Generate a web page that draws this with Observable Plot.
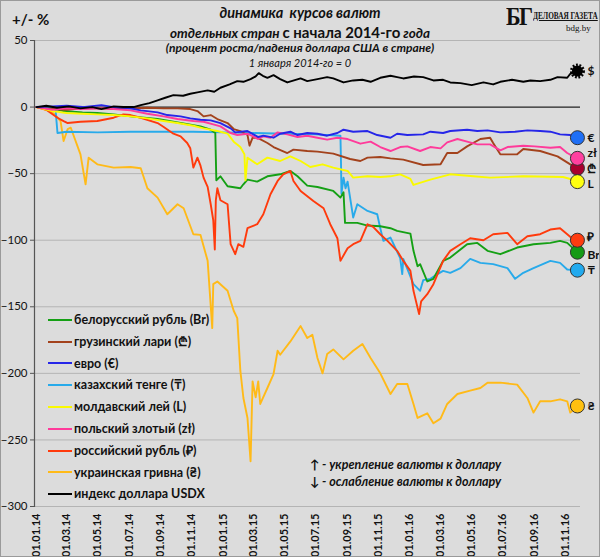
<!DOCTYPE html>
<html><head><meta charset="utf-8">
<script src="https://cdn.jsdelivr.net/npm/d3@7"></script>
<script src="https://cdn.jsdelivr.net/npm/@observablehq/plot@0.6"></script>
<style>
html,body{margin:0;padding:0;background:#dcdcdc;}
#wrap{position:relative;width:600px;height:557px;background:#dcdcdc;overflow:hidden;font-family:Lato,"Open Sans",sans-serif;color:#111;}
#chart{position:absolute;left:0;top:0;}
.border{position:absolute;left:0;top:0;width:598px;height:555px;border:1px solid #9a9a9a;pointer-events:none;}
.t{position:absolute;left:0;width:600px;text-align:center;font-weight:bold;font-style:italic;white-space:nowrap;line-height:1;}
.legend{position:absolute;left:48px;top:309px;font-weight:bold;font-size:12.5px;}
.legend div{height:21.8px;line-height:21.8px;white-space:nowrap;display:flex;align-items:center;}
.legend span.sw{display:inline-block;width:24px;height:2px;margin-right:2px;}
.note{position:absolute;left:310px;top:456px;font-weight:bold;font-style:italic;font-size:12.5px;line-height:17px;white-space:nowrap;}
.logo{position:absolute;left:506px;top:2px;font-family:"Liberation Serif",serif;font-weight:bold;}
</style></head>
<body>
<div id="wrap">
  <div id="chart"></div>
  <div style="position:absolute;left:12px;top:10px;font-weight:bold;font-size:15px;">+/- %</div>
  <div class="t" style="top:6px;font-size:14.5px;">динамика&nbsp; курсов валют</div>
  <div class="t" style="top:25px;font-size:13.5px;">отдельных стран <span style="font-style:normal;font-size:15px;">с начала 2014-го</span> года</div>
  <div class="t" style="top:42px;font-size:12px;">(процент роста/падения доллара США в стране)</div>
  <div class="t" style="top:57px;font-size:11px;font-weight:normal;">1 января 2014-го = 0</div>
  <div class="logo">
    <div style="position:absolute;left:0;top:0;font-size:26px;letter-spacing:-2px;transform:scaleX(0.85);transform-origin:left;">БГ</div>
    <div style="position:absolute;left:27px;top:7px;font-size:11px;white-space:nowrap;transform:scaleX(0.66);transform-origin:left;text-decoration:underline;">ДЕЛОВАЯ ГАЗЕТА</div>
    <div style="position:absolute;left:60px;top:21px;font-size:9px;font-weight:normal;">bdg.by</div>
  </div>
  <div class="legend" id="legend"></div>
  <div class="note">↑ - укрепление валюты к доллару<br>↓ - ослабление валюты к доллару</div>
  <div class="border"></div>
</div>
<script>
// ---- data (percent change vs 1 Jan 2014) ----
const bynData = [["2014-01-01",0],["2014-02-01",-1],["2014-02-23",-3],["2014-04-01",-4],["2014-04-30",-4.5],["2014-06-01",-5.5],["2014-07-04",-7],["2014-08-26",-9],["2014-10-10",-12],["2014-11-18",-14.5],["2014-12-08",-17],["2014-12-17",-19.5],["2014-12-19",-55],["2014-12-27",-52],["2015-01-10",-59.5],["2015-02-04",-61],["2015-02-10",-58],["2015-02-18",-54.5],["2015-03-09",-56],["2015-03-29",-52],["2015-04-23",-50.5],["2015-05-13",-48],["2015-05-27",-52],["2015-06-15",-59],["2015-07-05",-60],["2015-08-05",-63],["2015-08-19",-68],["2015-08-25",-64],["2015-08-28",-87],["2015-09-21",-87],["2015-10-11",-89],["2015-11-05",-89.5],["2015-11-25",-91],["2015-12-08",-93],["2016-01-03",-95],["2016-01-09",-108],["2016-01-17",-119.5],["2016-01-22",-118],["2016-02-05",-131],["2016-02-17",-129],["2016-03-07",-115.5],["2016-03-21",-113],["2016-04-23",-103],["2016-05-13",-102],["2016-06-02",-108],["2016-06-27",-110.5],["2016-07-30",-105.5],["2016-08-31",-103],["2016-10-03",-102],["2016-10-22",-100.5],["2016-11-05",-102],["2016-11-25",-109]];
const gelData = [["2014-01-01",0],["2014-02-01",-1.5],["2014-03-01",-2],["2014-04-01",-1],["2014-05-08",-1],["2014-06-01",-1.5],["2014-07-04",-1],["2014-08-06",-0.5],["2014-09-07",-1],["2014-10-04",-1],["2014-10-29",-1.5],["2014-11-12",-3],["2014-11-24",-7],["2014-12-08",-6],["2014-12-21",-9],["2015-01-10",-12],["2015-01-22",-16.5],["2015-02-04",-18],["2015-02-18",-21],["2015-02-22",-29],["2015-02-28",-23],["2015-03-09",-23],["2015-03-29",-27],["2015-04-10",-30],["2015-05-07",-34.5],["2015-05-19",-32],["2015-06-15",-33],["2015-07-05",-33.5],["2015-08-05",-35],["2015-09-07",-39],["2015-09-27",-40.5],["2015-10-11",-38],["2015-11-05",-37.5],["2015-11-25",-38.5],["2015-12-20",-39.5],["2016-01-28",-43.5],["2016-03-02",-43],["2016-03-15",-34.5],["2016-04-04",-34.5],["2016-04-23",-29.5],["2016-05-19",-24],["2016-06-07",-23],["2016-06-13",-27],["2016-06-27",-35.5],["2016-07-30",-35.5],["2016-08-11",-31.5],["2016-09-13",-33],["2016-10-17",-37],["2016-11-11",-43],["2016-11-25",-46]];
const eurData = [["2014-01-01",0],["2014-02-01",0.5],["2014-03-01",1],["2014-04-01",0],["2014-05-08",1.5],["2014-06-01",0],["2014-07-04",-1],["2014-07-24",-2.5],["2014-08-26",-4],["2014-09-14",-6],["2014-10-10",-7],["2014-10-29",-8.5],["2014-11-18",-9.5],["2014-12-08",-10],["2014-12-27",-12],["2015-01-16",-16],["2015-01-25",-19],["2015-02-18",-18],["2015-03-11",-22.5],["2015-03-21",-21.5],["2015-03-29",-22],["2015-04-10",-23],["2015-04-23",-20],["2015-05-13",-18.5],["2015-05-27",-21],["2015-06-15",-19.5],["2015-07-05",-20],["2015-07-24",-21.5],["2015-08-13",-19.5],["2015-08-25",-17],["2015-09-13",-18.5],["2015-10-11",-18],["2015-10-30",-21],["2015-11-25",-23],["2015-12-08",-20],["2015-12-28",-21],["2016-01-28",-20.5],["2016-02-11",-18.5],["2016-03-07",-19.5],["2016-03-21",-18],["2016-04-23",-17],["2016-05-13",-18],["2016-06-02",-17.5],["2016-06-27",-19],["2016-07-26",-18.5],["2016-08-19",-17.5],["2016-09-13",-18],["2016-10-03",-18.5],["2016-10-22",-20.5],["2016-11-11",-21],["2016-11-25",-23]];
const kztData = [["2014-01-01",0],["2014-01-20",-0.5],["2014-02-07",-1],["2014-02-11",-19.5],["2014-03-01",-18.5],["2014-05-01",-19],["2014-07-04",-18.5],["2014-09-07",-18.5],["2014-11-04",-18.5],["2015-01-01",-19],["2015-03-01",-19.5],["2015-05-01",-20],["2015-07-01",-20.5],["2015-08-19",-21.5],["2015-08-20",-40],["2015-08-21",-65],["2015-08-25",-53],["2015-08-29",-61],["2015-09-02",-56],["2015-09-13",-83],["2015-09-21",-73],["2015-10-11",-78],["2015-10-30",-80.5],["2015-11-05",-91],["2015-11-11",-100.5],["2015-11-25",-98],["2015-12-14",-113.5],["2015-12-18",-125.5],["2015-12-20",-114],["2016-01-09",-133],["2016-01-22",-138],["2016-01-28",-130],["2016-02-11",-129],["2016-02-25",-125.5],["2016-03-07",-123],["2016-03-21",-124.5],["2016-04-10",-121],["2016-04-29",-114],["2016-05-19",-117],["2016-06-13",-118],["2016-07-11",-121],["2016-07-26",-129],["2016-08-11",-124.5],["2016-08-31",-121],["2016-10-03",-115.5],["2016-10-22",-117],["2016-11-05",-122],["2016-11-25",-122.5]];
const mdlData = [["2014-01-01",0],["2014-02-01",-3],["2014-03-01",-4.5],["2014-04-01",-5],["2014-04-30",-5.5],["2014-06-01",-6],["2014-07-04",-7],["2014-08-06",-8.5],["2014-09-07",-10.5],["2014-10-04",-12],["2014-11-04",-14],["2014-11-24",-16],["2014-12-21",-18],["2015-01-10",-20],["2015-01-22",-26],["2015-02-04",-30],["2015-02-12",-35.5],["2015-02-14",-55],["2015-02-18",-38],["2015-03-09",-43],["2015-03-29",-38],["2015-04-23",-40.5],["2015-05-13",-37],["2015-06-02",-40.5],["2015-06-21",-45],["2015-07-15",-43],["2015-08-05",-45.5],["2015-09-02",-48],["2015-09-13",-53],["2015-10-11",-52],["2015-11-05",-52.5],["2015-11-25",-52],["2015-12-14",-50.5],["2016-01-03",-54],["2016-01-09",-58.5],["2016-02-11",-54.5],["2016-03-21",-50.5],["2016-05-05",-52],["2016-06-07",-53],["2016-08-11",-52],["2016-10-28",-52.5],["2016-11-11",-54],["2016-11-25",-56]];
const plnData = [["2014-01-01",0],["2014-02-01",-2],["2014-03-01",-1],["2014-04-01",-1.5],["2014-05-08",-1],["2014-06-01",-1.5],["2014-07-04",-2.5],["2014-08-06",-5],["2014-09-07",-7],["2014-10-04",-9],["2014-11-04",-10.5],["2014-11-24",-11],["2014-12-13",-13],["2014-12-27",-14.5],["2015-01-16",-19.5],["2015-01-29",-21],["2015-02-18",-20],["2015-03-11",-24],["2015-03-21",-22],["2015-04-04",-23],["2015-04-18",-19],["2015-05-07",-20.5],["2015-05-27",-22.5],["2015-06-15",-21.5],["2015-07-05",-23],["2015-07-24",-24.5],["2015-08-13",-23],["2015-09-02",-24],["2015-09-27",-27.5],["2015-10-17",-26],["2015-11-05",-30],["2015-11-25",-33],["2015-12-14",-30],["2015-12-28",-29.5],["2016-01-22",-33],["2016-02-11",-30],["2016-03-02",-31],["2016-03-15",-26.5],["2016-04-04",-24],["2016-04-23",-26],["2016-05-13",-28],["2016-06-07",-28],["2016-06-27",-32.5],["2016-07-11",-30],["2016-08-11",-29],["2016-09-02",-29.5],["2016-10-03",-30.5],["2016-10-22",-30],["2016-11-05",-34.5],["2016-11-17",-37],["2016-11-25",-38.5]];
const rubData = [["2014-01-01",0],["2014-01-20",-2],["2014-02-11",-8],["2014-02-23",-10.5],["2014-03-03",-12],["2014-03-28",-11],["2014-04-30",-10.5],["2014-06-01",-8],["2014-06-20",-5.5],["2014-07-04",-6],["2014-07-24",-8],["2014-08-26",-12],["2014-09-07",-15],["2014-09-26",-20],["2014-10-10",-22],["2014-10-23",-27],["2014-10-29",-31],["2014-11-04",-45.5],["2014-11-12",-38],["2014-11-18",-44],["2014-11-24",-53],["2014-12-02",-60],["2014-12-08",-73],["2014-12-13",-85],["2014-12-16",-107],["2014-12-18",-70],["2014-12-21",-61],["2014-12-27",-70],["2015-01-10",-73],["2015-01-16",-103],["2015-01-25",-110.5],["2015-01-31",-103],["2015-02-10",-105],["2015-02-18",-91],["2015-03-09",-88],["2015-03-21",-80.5],["2015-04-04",-65.5],["2015-04-18",-55.5],["2015-04-29",-50.5],["2015-05-13",-48],["2015-05-19",-55.5],["2015-06-02",-63],["2015-06-27",-70.5],["2015-07-17",-76],["2015-07-30",-88],["2015-08-13",-98.5],["2015-08-19",-115.5],["2015-09-02",-106],["2015-09-13",-103],["2015-09-27",-100.5],["2015-10-11",-88],["2015-10-22",-90],["2015-11-05",-95.5],["2015-11-19",-100.5],["2015-12-08",-108],["2015-12-20",-115.5],["2016-01-03",-123],["2016-01-09",-138],["2016-01-20",-155.5],["2016-01-24",-146],["2016-02-05",-140.5],["2016-02-17",-133],["2016-03-07",-115.5],["2016-03-21",-108],["2016-04-10",-103],["2016-04-29",-98.5],["2016-05-25",-100],["2016-06-13",-95.5],["2016-07-11",-94.5],["2016-07-30",-103],["2016-08-19",-97],["2016-09-13",-95.5],["2016-10-03",-92],["2016-10-22",-91],["2016-11-05",-95.5],["2016-11-17",-99.5],["2016-11-25",-100]];
const uahData = [["2014-01-01",0],["2014-01-28",-3],["2014-02-07",-6],["2014-02-17",-10.5],["2014-02-23",-25.5],["2014-03-03",-16.5],["2014-03-09",-15.5],["2014-03-28",-35.5],["2014-04-07",-58],["2014-04-13",-38],["2014-04-30",-43],["2014-06-01",-45.5],["2014-07-04",-45],["2014-07-24",-46],["2014-08-06",-61],["2014-08-26",-68],["2014-09-14",-80.5],["2014-10-04",-73],["2014-10-16",-76],["2014-11-04",-95.5],["2014-11-18",-96],["2014-12-02",-115.5],["2014-12-11",-166],["2014-12-13",-133],["2014-12-21",-131],["2015-01-10",-138],["2015-01-22",-153],["2015-01-29",-158.5],["2015-02-04",-198],["2015-02-10",-218.5],["2015-02-18",-233.5],["2015-02-24",-266],["2015-02-28",-206],["2015-03-06",-218],["2015-03-11",-206],["2015-03-15",-223],["2015-03-29",-211],["2015-04-10",-200.5],["2015-04-18",-183],["2015-04-23",-186],["2015-05-13",-176],["2015-06-02",-164.5],["2015-06-15",-173.5],["2015-06-25",-171],["2015-07-05",-188.5],["2015-07-15",-200],["2015-07-24",-185.5],["2015-08-05",-182],["2015-08-25",-189.5],["2015-09-13",-183],["2015-10-01",-178],["2015-10-17",-188.5],["2015-11-05",-200],["2015-11-25",-215.5],["2015-12-08",-208],["2015-12-28",-208],["2016-01-09",-223],["2016-01-17",-233.5],["2016-02-05",-230],["2016-02-17",-237.5],["2016-03-02",-234],["2016-03-15",-223],["2016-04-04",-215.5],["2016-04-29",-213],["2016-05-19",-211],["2016-06-02",-207],["2016-06-27",-207],["2016-07-30",-208.5],["2016-08-19",-218.5],["2016-08-31",-229.5],["2016-09-13",-221],["2016-10-03",-221],["2016-10-22",-219.5],["2016-11-05",-221],["2016-11-11",-229.5],["2016-11-25",-224.5]];
const usdxData = [["2014-01-01",0],["2014-01-20",1],["2014-02-10",-0.5],["2014-03-05",0.5],["2014-03-28",-1],["2014-04-20",0],["2014-05-08",-1.5],["2014-06-01",0.5],["2014-06-20",0],["2014-07-10",0],["2014-07-24",1.5],["2014-08-10",3],["2014-08-26",5],["2014-09-10",7],["2014-09-26",9],["2014-10-15",8.5],["2014-10-29",10],["2014-11-12",11],["2014-12-02",12.5],["2014-12-15",11.5],["2014-12-27",14.5],["2015-01-14",17],["2015-01-29",19.5],["2015-02-10",19],["2015-02-24",21],["2015-03-06",23],["2015-03-12",25.5],["2015-03-20",23.5],["2015-03-29",22],["2015-04-10",24],["2015-04-23",21],["2015-05-07",18.5],["2015-05-20",20],["2015-06-02",21.5],["2015-06-15",19.5],["2015-07-05",21],["2015-07-24",22.5],["2015-08-05",21.5],["2015-08-25",18.5],["2015-09-13",20],["2015-10-01",20.5],["2015-10-17",19],["2015-11-05",22],["2015-11-25",23.5],["2015-12-08",22.5],["2015-12-20",21.5],["2016-01-10",23],["2016-01-28",22.5],["2016-02-17",20],["2016-03-07",20.5],["2016-03-21",18.5],["2016-04-10",18],["2016-05-02",16.5],["2016-05-25",18.5],["2016-06-13",17],["2016-06-27",19],["2016-07-20",20.5],["2016-08-11",19],["2016-08-25",20],["2016-09-13",19.5],["2016-10-03",20.5],["2016-10-17",22.5],["2016-11-05",22],["2016-11-11",25],["2016-11-25",27]];

const seriesNames = ["белорусский рубль (Br)","грузинский лари (₾)","евро (€)","казахский  тенге (₸)","молдавский лей (L)","польский злотый (zł)","российский рубль (₽)","украинская  гривна (₴)","индекс доллара USDX"];
const seriesSymbols = ["Br","₾","€","₸","L","zł","₽","₴","$"];
const lineColors = ["#15a015","#a3421c","#2626e8","#28aaea","#fafa00","#ff3a9a","#ff3a0c","#ffba18","#000000"];
const markerColors = ["#159a15","#a8002e","#1f6ff5","#22aaee","#ffff10","#ff40a0","#ff3c10","#ffc010","#000000"];
const seriesData = [bynData, gelData, eurData, kztData, mdlData, plnData, rubData, uahData, usdxData];
const drawOrder = [7, 3, 0, 6, 4, 1, 5, 2, 8];
const yTicks = [50, 0, -50, -100, -150, -200, -250, -300];
const xTicks = ["2014-01-01","2014-03-01","2014-05-01","2014-07-01","2014-09-01","2014-11-01","2015-01-01","2015-03-01","2015-05-01","2015-07-01","2015-09-01","2015-11-01","2016-01-01","2016-03-01","2016-05-01","2016-07-01","2016-09-01","2016-11-01"];

// ---- build ----
const parse = d3.utcParse("%Y-%m-%d");
const tables = seriesData.map((s, i) => s.map(([d, v]) => ({date: parse(d), value: v, i})));
const ends = tables.map(t => t[t.length - 1]);
const labelShift = {"zł": -5, "₾": 1, "L": 3, "₽": -3, "Br": 3};

const lineMarks = drawOrder.map(i => Plot.line(tables[i], {x: "date", y: "value", stroke: lineColors[i], strokeWidth: 1.9, strokeLinejoin: "round"}));
const fmt = d3.utcFormat("%d.%m.%y");

const chart = Plot.plot({
  width: 600, height: 557,
  marginLeft: 34, marginRight: 20, marginTop: 40, marginBottom: 51,
  style: {background: "transparent", fontFamily: "Lato, 'Open Sans', sans-serif", color: "#111"},
  x: {type: "utc", domain: [parse("2013-12-28"), parse("2016-12-01")]},
  y: {domain: [-300, 50]},
  marks: [
    Plot.ruleY(yTicks.filter(d => d !== 0), {stroke: "#b4b4b4", strokeWidth: 1}),
    Plot.ruleY([0], {stroke: "#222", strokeWidth: 1.2}),
    Plot.frame({anchor: "left", stroke: "#555", strokeWidth: 1.2}),
    Plot.axisY({ticks: yTicks, tickSize: 4, tickPadding: 3, fontSize: 11.5, label: null, stroke: "#555"}),
    Plot.axisX({ticks: xTicks.map(parse), tickFormat: fmt, tickRotate: -90, tickSize: 0, tickPadding: 7, fontSize: 11, fontWeight: "bold", label: null}),
    ...lineMarks,
    Plot.dot(ends.filter(d => d.i !== 8), {x: "date", y: "value", r: 7, fill: d => markerColors[d.i], stroke: "#333", strokeWidth: 1}),
    Plot.dot(ends.filter(d => d.i === 8), {x: "date", y: "value", r: 5.5, fill: "#000", stroke: "#000", strokeWidth: 4, strokeDasharray: "1.6,1.4"}),
    ...ends.map(d => Plot.text([d], {x: "date", y: "value", text: e => seriesSymbols[e.i], dx: 10, dy: labelShift[seriesSymbols[d.i]] || 0, textAnchor: "start", fontWeight: "bold", fontSize: 12, fill: "#111"}))
  ]
});
document.getElementById("chart").appendChild(chart);

const legend = document.getElementById("legend");
seriesNames.forEach((name, i) => {
  const row = document.createElement("div");
  const sw = document.createElement("span");
  sw.className = "sw"; sw.style.background = lineColors[i];
  row.appendChild(sw);
  row.appendChild(document.createTextNode(name));
  legend.appendChild(row);
});
</script>
</body></html>
